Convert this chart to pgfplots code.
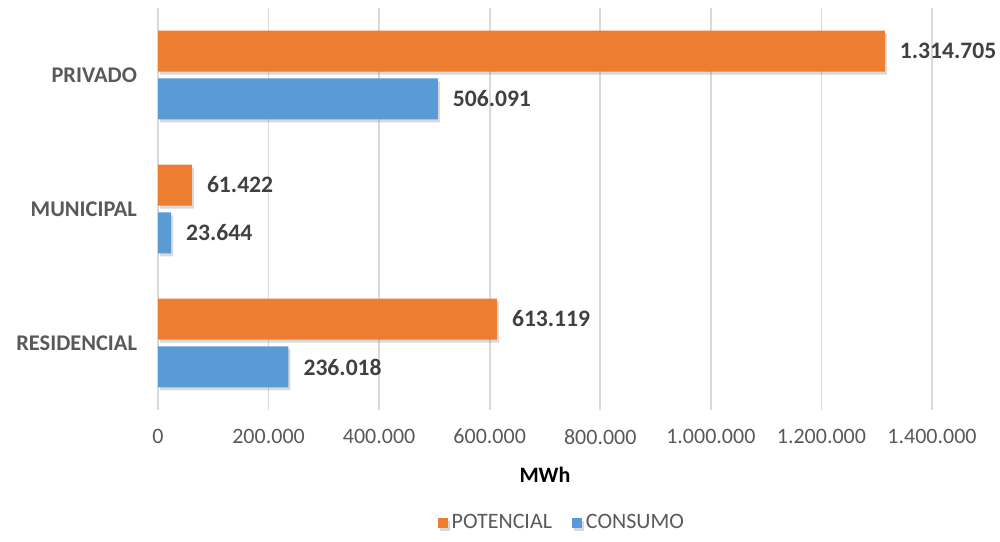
\documentclass[border=0pt]{standalone}
\usepackage{pgfplots}
\usepackage{pgfplotstable}
\pgfplotsset{compat=1.18}
\usepackage{fontspec}
\setmainfont{Carlito}
\usetikzlibrary{shadows}
\definecolor{orangeA}{HTML}{ED7D31}
\definecolor{blueA}{HTML}{5B9BD5}
\definecolor{txt}{HTML}{595959}
\definecolor{lbl}{HTML}{404040}
\definecolor{gridc}{HTML}{D9D9D9}

\pgfplotstableread{
c v lab
0 613119 613.119
1 61422 61.422
2 1314705 1.314.705
}\potencial
\pgfplotstableread{
c v lab
0 236018 236.018
1 23644 23.644
2 506091 506.091
}\consumo

\begin{document}
\begin{tikzpicture}
\path[use as bounding box] (0,0) rectangle (500pt,270.5pt);
\begin{axis}[
  at={(79pt,65.5pt)}, anchor=south west,
  scale only axis, width=387pt, height=201pt,
  xbar, bar width=0.306,
  xmin=0, xmax=1400000, ymin=-0.5, ymax=2.5,
  ytick={0,1,2}, yticklabels={RESIDENCIAL,MUNICIPAL,PRIVADO},
  xtick={0,200000,400000,600000,800000,1000000,1200000,1400000},
  xticklabels={0,200.000,400.000,600.000,800.000,1.000.000,1.200.000,1.400.000},
  scaled x ticks=false,
  axis line style={draw=none},
  major tick length=0pt,
  xmajorgrids, major grid style={color=gridc, line width=0.8pt},
  xticklabel style={font=\fontsize{11}{13}\selectfont, text=txt, yshift=-6pt},
  yticklabel style={font=\fontsize{11.2}{13}\selectfont\bfseries, text=txt, xshift=-7pt},
  xlabel={MWh},
  xlabel style={font=\fontsize{11}{13}\selectfont\bfseries, text=black, at={(axis description cs:0.5,-0.162)}, anchor=center},
  point meta=explicit symbolic,
  nodes near coords,
  nodes near coords style={font=\fontsize{11.8}{14}\selectfont\bfseries, text=lbl, anchor=west, xshift=4pt},
  legend style={draw=none, fill=none, at={(axis description cs:0.523,-0.281)}, anchor=center,
    legend columns=2, font=\fontsize{11}{13}\selectfont, text=txt,
    /tikz/every even column/.append style={column sep=8pt}},
  legend cell align=left,
]
\addplot[draw=none, fill=orangeA, bar shift=0.179,
  drop shadow={shadow xshift=1pt, shadow yshift=-1.5pt, opacity=0.3},
  legend image code/.code={\fill[orangeA] (0pt,-2.5pt) rectangle (5pt,2.5pt);}]
  table[x=v, y=c, meta=lab] {\potencial};
\addlegendentry{POTENCIAL}
\addplot[draw=none, fill=blueA, bar shift=-0.179,
  drop shadow={shadow xshift=1pt, shadow yshift=-1.5pt, opacity=0.3},
  legend image code/.code={\fill[blueA] (0pt,-2.5pt) rectangle (5pt,2.5pt);}]
  table[x=v, y=c, meta=lab] {\consumo};
\addlegendentry{CONSUMO}
\end{axis}
\end{tikzpicture}
\end{document}
